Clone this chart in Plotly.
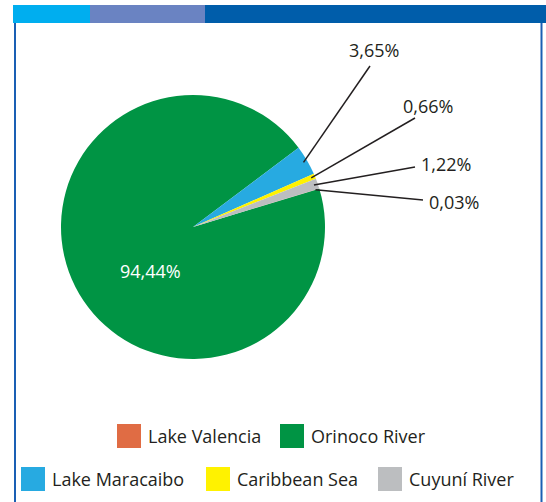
import math
import plotly.graph_objects as go

W, H = 546, 502

# ---- data ----
labels = ["Lake Valencia", "Orinoco River", "Lake Maracaibo", "Caribbean Sea", "Cuyuní River"]
values = [0.03, 94.44, 3.65, 0.66, 1.22]
colors = ["#E06C44", "#009444", "#27AAE1", "#FFF200", "#BCBEC0"]

# label anchor (pixel) positions for outside labels and leader line ends
label_pos = {
    "Lake Valencia": (454, 202),
    "Lake Maracaibo": (374, 50),
    "Caribbean Sea": (428, 106),
    "Cuyuní River": (446, 164),
}
line_end = {
    "Lake Valencia": (423, 200),
    "Lake Maracaibo": (370, 66),
    "Caribbean Sea": (415, 118),
    "Cuyuní River": (415, 167),
}
inner_label_pos = {"Orinoco River": (150, 271)}

# legend layout (pixel): (square left, square top)
legend_pos = {
    "Lake Valencia": (117, 424),
    "Orinoco River": (280, 424),
    "Lake Maracaibo": (21, 467),
    "Caribbean Sea": (206, 467),
    "Cuyuní River": (378, 467),
}

FONT = "Open Sans, Noto Sans, sans-serif"
TXT = "#231F20"

cx, cy, R = 193, 227, 132
ROT = 73  # degrees clockwise from 12 o'clock


def px(x):
    return x / W


def py(y):
    return 1 - y / H


def fmt(v):
    return f"{v:.2f}".replace(".", ",") + "%"


fig = go.Figure()
fig.add_trace(go.Pie(
    labels=labels,
    values=values,
    sort=False,
    direction="clockwise",
    rotation=ROT,
    marker=dict(colors=colors, line=dict(width=0)),
    textinfo="none",
    hoverinfo="label+percent",
    showlegend=False,
    domain=dict(x=[px(cx - R), px(cx + R)], y=[py(cy + R), py(cy - R)]),
))

shapes = []
annotations = []

# top colour bar
for x0, x1, c in [(13, 90, "#00AEEF"), (90, 205, "#6A83C2"), (205, 546, "#005DAA")]:
    shapes.append(dict(type="rect", xref="paper", yref="paper",
                       x0=px(x0), x1=px(x1), y0=py(23), y1=py(5),
                       fillcolor=c, line=dict(width=0), layer="above"))
# side borders
for x in (15, 541.5):
    shapes.append(dict(type="line", xref="paper", yref="paper",
                       x0=px(x), x1=px(x), y0=py(23), y1=py(502),
                       line=dict(color="#1A5FB4", width=2)))

# leader lines and labels
total = sum(values)
start = ROT
for lab, v in zip(labels, values):
    span = v / total * 360
    mid = start + span / 2
    start += span
    if lab in label_pos:
        a = math.radians(mid)
        r_in = R * 0.97
        x0 = cx + r_in * math.sin(a)
        y0 = cy - r_in * math.cos(a)
        x1, y1 = line_end[lab]
        shapes.append(dict(type="line", xref="paper", yref="paper",
                           x0=px(x0), y0=py(y0), x1=px(x1), y1=py(y1),
                           line=dict(color="#231F20", width=1.5)))
        lx, ly = label_pos[lab]
        annotations.append(dict(x=px(lx), y=py(ly), xref="paper", yref="paper",
                                text=fmt(v), showarrow=False,
                                xanchor="center", yanchor="middle",
                                font=dict(family=FONT, size=18, color=TXT)))
    if lab in inner_label_pos:
        lx, ly = inner_label_pos[lab]
        annotations.append(dict(x=px(lx), y=py(ly), xref="paper", yref="paper",
                                text=fmt(v), showarrow=False,
                                xanchor="center", yanchor="middle",
                                font=dict(family=FONT, size=18, color="white")))

# legend
SQ = 24
for lab, c in zip(labels, colors):
    x0, y0 = legend_pos[lab]
    shapes.append(dict(type="rect", xref="paper", yref="paper",
                       x0=px(x0), x1=px(x0 + SQ), y0=py(y0 + SQ), y1=py(y0),
                       fillcolor=c, line=dict(width=0)))
    annotations.append(dict(x=px(x0 + SQ + 5), y=py(y0 + SQ / 2), xref="paper", yref="paper",
                            text=lab, showarrow=False,
                            xanchor="left", yanchor="middle",
                            font=dict(family=FONT, size=18, color=TXT)))

fig.update_layout(
    width=W, height=H,
    margin=dict(l=0, r=0, t=0, b=0),
    paper_bgcolor="white",
    plot_bgcolor="white",
    shapes=shapes,
    annotations=annotations,
)

fig.write_html("out.html",
               config={"displayModeBar": False},
               post_script="document.body.style.margin='0';document.body.style.overflow='hidden';")
